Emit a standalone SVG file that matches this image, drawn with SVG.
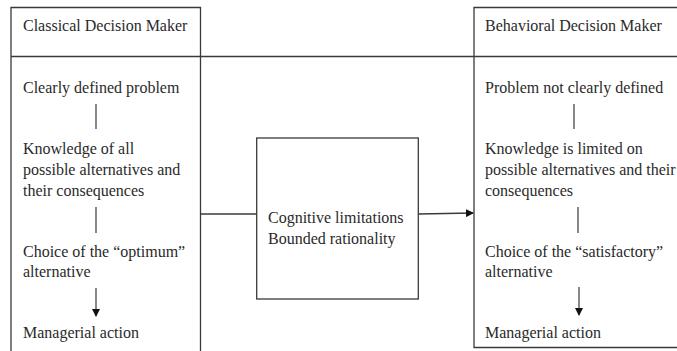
<svg xmlns="http://www.w3.org/2000/svg" width="677" height="351" viewBox="0 0 677 351">
<defs>
<style>
.t{font-family:"Liberation Serif","Times New Roman",serif;font-size:16px;fill:#2a2a2a;}
.ln{stroke:#3a3a3a;stroke-width:1.3;fill:none;}
.sep{stroke:#3a3a3a;stroke-width:1.2;fill:none;}
</style>
<marker id="ah" markerWidth="8" markerHeight="8" refX="7" refY="4" orient="auto" markerUnits="userSpaceOnUse">
<path d="M0,0 L8,4 L0,8 Z" fill="#111"/>
</marker>
</defs>
<rect width="677" height="351" fill="#fff"/>
<line class="ln" x1="11" y1="56.5" x2="677" y2="56.5"/>
<g id="classical">
<path class="ln" d="M11,360 V7.5 H200.5 V360"/>
<text class="t" x="23" y="31">Classical Decision Maker</text>
<text class="t" x="23" y="93">Clearly defined problem</text>
<line class="sep" x1="96" y1="104" x2="96" y2="129"/>
<text class="t" x="23" y="154">Knowledge of all</text>
<text class="t" x="23" y="175">possible alternatives and</text>
<text class="t" x="23" y="196">their consequences</text>
<line class="sep" x1="96" y1="207" x2="96" y2="233"/>
<text class="t" x="23" y="257">Choice of the “optimum”</text>
<text class="t" x="23" y="277">alternative</text>
<line class="sep" x1="96" y1="288" x2="96" y2="316" marker-end="url(#ah)"/>
<text class="t" x="23" y="338">Managerial action</text>
</g>
<g id="middle">
<rect class="ln" x="256.7" y="138" width="161.6" height="161"/>
<text class="t" x="268" y="223">Cognitive limitations</text>
<text class="t" x="268" y="244">Bounded rationality</text>
</g>
<g id="behavioral">
<path class="ln" d="M690,7.5 H474 V347.5 H690"/>
<text class="t" x="485" y="31">Behavioral Decision Maker</text>
<text class="t" x="485" y="93">Problem not clearly defined</text>
<line class="sep" x1="574" y1="104" x2="574" y2="129"/>
<text class="t" x="485" y="154">Knowledge is limited on</text>
<text class="t" x="485" y="175">possible alternatives and their</text>
<text class="t" x="485" y="196">consequences</text>
<line class="sep" x1="578" y1="207" x2="578" y2="233"/>
<text class="t" x="485" y="257">Choice of the “satisfactory”</text>
<text class="t" x="485" y="277">alternative</text>
<line class="sep" x1="579" y1="287" x2="579" y2="315" marker-end="url(#ah)"/>
<text class="t" x="485" y="338">Managerial action</text>
</g>
<g id="connectors">
<line class="ln" x1="200.5" y1="214" x2="256.7" y2="214"/>
<line class="ln" x1="418.3" y1="214" x2="473" y2="213" marker-end="url(#ah)"/>
</g>
</svg>
